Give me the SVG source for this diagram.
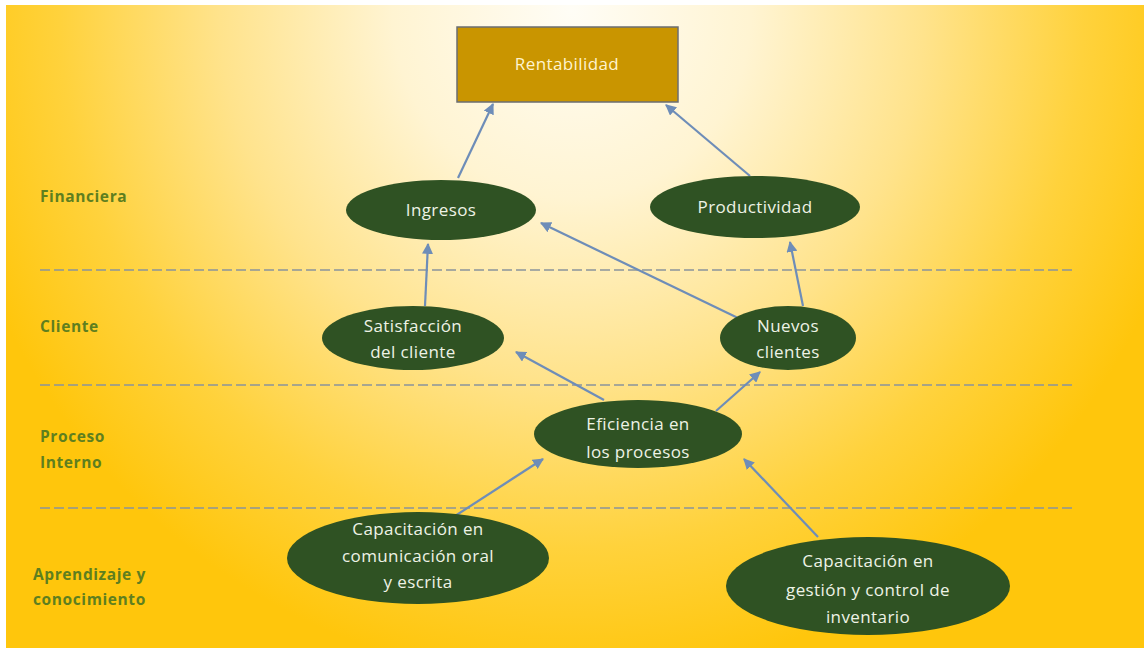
<svg xmlns="http://www.w3.org/2000/svg" width="1144" height="648" viewBox="0 0 1144 648">
  <defs>
    <radialGradient id="bg" gradientUnits="userSpaceOnUse" cx="572" cy="10" r="640" gradientTransform="translate(572 10) scale(1 1.05) translate(-572 -10)">
      <stop offset="0" stop-color="#FFFDF6"/>
      <stop offset="0.28" stop-color="#FFF4D2"/>
      <stop offset="0.55" stop-color="#FFE38C"/>
      <stop offset="0.8" stop-color="#FFD23C"/>
      <stop offset="1" stop-color="#FFC60C"/>
    </radialGradient>
    <marker id="arrow" viewBox="0 0 10 10" refX="9" refY="5" markerWidth="5" markerHeight="5" orient="auto-start-reverse">
      <path d="M0,0 L10,5 L0,10 z" fill="#6E8DB8"/>
    </marker>
  </defs>
  <style>
    .node { fill: #2F5223; }
    .ntext { fill: #EEF3E6; font-family: "Open Sans", "Liberation Sans", sans-serif; font-size: 17px; letter-spacing: 0.4px; text-anchor: middle; }
    .lane { fill: #5E7F1F; font-family: "Open Sans", "Liberation Sans", sans-serif; font-size: 15.5px; font-weight: bold; letter-spacing: 0.6px; }
    .sep { stroke: #8A949C; stroke-width: 1.5; stroke-dasharray: 10 4; fill: none; }
    .edge { stroke: #6E8DB8; stroke-width: 2.2; fill: none; marker-end: url(#arrow); }
  </style>

  <!-- page and background -->
  <rect x="0" y="0" width="1144" height="648" fill="#FFFFFF"/>
  <rect x="6" y="5" width="1138" height="643" fill="url(#bg)"/>

  <!-- perspective separators -->
  <g id="separators">
    <line class="sep" x1="40" y1="270" x2="1075" y2="270"/>
    <line class="sep" x1="40" y1="385" x2="1075" y2="385"/>
    <line class="sep" x1="40" y1="508" x2="1075" y2="508"/>
  </g>

  <!-- perspective labels -->
  <g id="lanes">
    <text class="lane" x="40" y="202">Financiera</text>
    <text class="lane" x="40" y="332">Cliente</text>
    <text class="lane" x="40" y="442">Proceso</text>
    <text class="lane" x="40" y="468">Interno</text>
    <text class="lane" x="33" y="580">Aprendizaje y</text>
    <text class="lane" x="33" y="605">conocimiento</text>
  </g>

  <!-- connectors -->
  <g id="connectors">
    <line class="edge" x1="458" y1="178" x2="493" y2="104"/>
    <line class="edge" x1="750" y1="176" x2="666" y2="105"/>
    <line class="edge" x1="425" y1="306" x2="428" y2="244"/>
    <line class="edge" x1="738" y1="318" x2="541" y2="223"/>
    <line class="edge" x1="803" y1="306" x2="790" y2="242"/>
    <line class="edge" x1="604" y1="400" x2="516" y2="352"/>
    <line class="edge" x1="716" y1="411" x2="760" y2="372"/>
    <line class="edge" x1="455" y1="516" x2="543" y2="459"/>
    <line class="edge" x1="818" y1="537" x2="744" y2="459"/>
  </g>

  <g id="rentabilidad">
    <rect x="457" y="27" width="221" height="75" fill="#C99500" stroke="#6B6E72" stroke-width="1.5"/>
    <text x="567" y="70" fill="#FFF4CF" font-family="Open Sans, Liberation Sans, sans-serif" font-size="17" letter-spacing="0.4" text-anchor="middle">Rentabilidad</text>
  </g>

  <g id="ingresos">
    <ellipse class="node" cx="441" cy="210" rx="95" ry="30"/>
    <text class="ntext" x="441" y="216">Ingresos</text>
  </g>

  <g id="productividad">
    <ellipse class="node" cx="755" cy="207" rx="105" ry="31"/>
    <text class="ntext" x="755" y="213">Productividad</text>
  </g>

  <g id="satisfaccion">
    <ellipse class="node" cx="413" cy="338" rx="91" ry="32"/>
    <text class="ntext" x="413" y="332">Satisfacción</text>
    <text class="ntext" x="413" y="358">del cliente</text>
  </g>

  <g id="nuevos">
    <ellipse class="node" cx="788" cy="338" rx="68" ry="32"/>
    <text class="ntext" x="788" y="332">Nuevos</text>
    <text class="ntext" x="788" y="358">clientes</text>
  </g>

  <g id="eficiencia">
    <ellipse class="node" cx="638" cy="434" rx="104" ry="34"/>
    <text class="ntext" x="638" y="430">Eficiencia en</text>
    <text class="ntext" x="638" y="458">los procesos</text>
  </g>

  <g id="cap-comunicacion">
    <ellipse class="node" cx="418" cy="558" rx="131" ry="46"/>
    <text class="ntext" x="418" y="535">Capacitación en</text>
    <text class="ntext" x="418" y="562">comunicación oral</text>
    <text class="ntext" x="418" y="588">y escrita</text>
  </g>

  <g id="cap-inventario">
    <ellipse class="node" cx="868" cy="586" rx="142" ry="49"/>
    <text class="ntext" x="868" y="567">Capacitación en</text>
    <text class="ntext" x="868" y="596">gestión y control de</text>
    <text class="ntext" x="868" y="623">inventario</text>
  </g>
</svg>
